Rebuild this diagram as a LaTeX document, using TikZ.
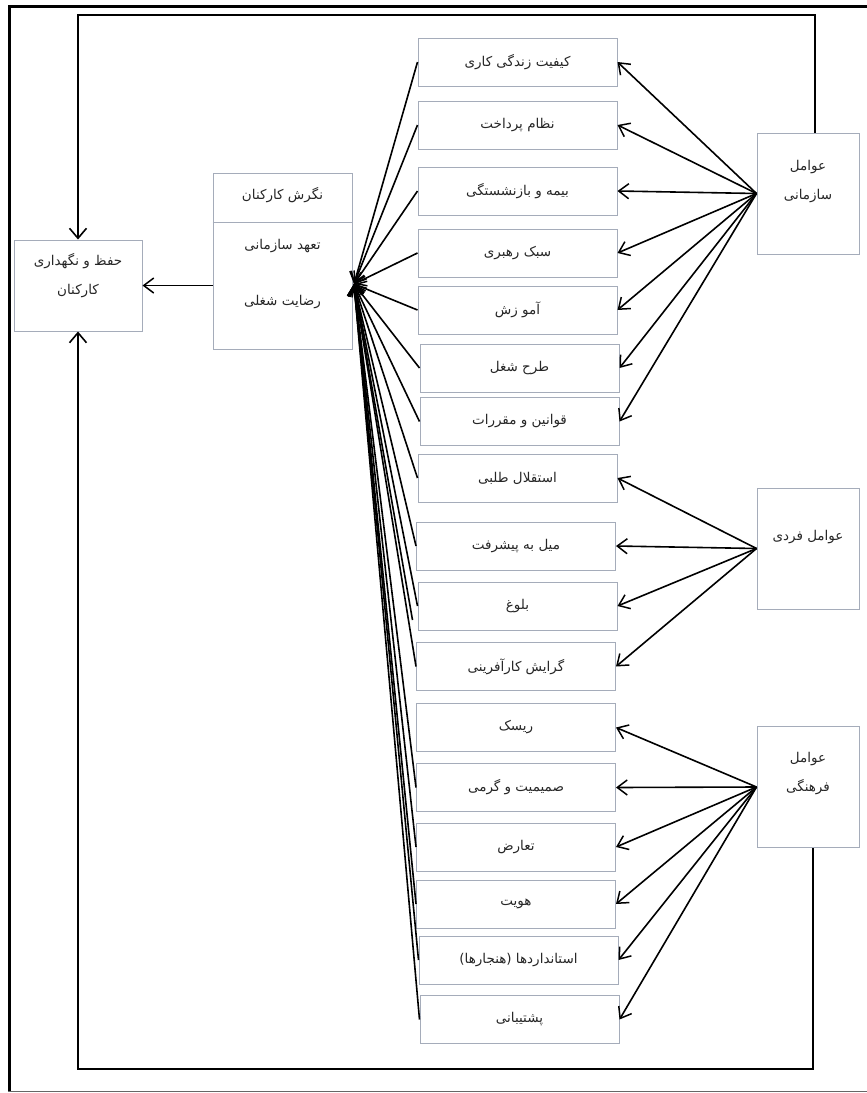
\documentclass[tikz,border=0pt]{standalone}
\usepackage{fontspec}
\newfontfamily\arabicfont[Script=Arabic]{DejaVu Sans}
\TeXXeTstate=1
\usetikzlibrary{arrows.meta,calc}
\definecolor{boxgray}{RGB}{165,172,186}
\newcommand{\fa}[1]{\beginR #1\endR}
\begin{document}
\begin{tikzpicture}[x=1pt,y=-1pt,
  every node/.style={font=\arabicfont\fontsize{13.5}{29}\selectfont,text=black!85},
  mbox/.style={draw=boxgray,line width=1pt,minimum width=199pt,minimum height=48pt,inner sep=0pt},
  rbox/.style={draw=boxgray,line width=1pt,minimum width=102pt,minimum height=121pt,inner sep=0pt},
  lbox/.style={draw=boxgray,line width=1pt,inner sep=0pt},
  conn/.style={line width=1.6pt,-{Straight Barb[length=10pt,width=15pt,line width=1.5pt]}},
  loopl/.style={line width=1.9pt,-{Straight Barb[length=10pt,width=17pt,line width=1.6pt]}},
  frame/.style={line width=3pt,black}
]
\useasboundingbox (0,0) rectangle (867,1093);
% outer frame
\draw[frame] (9.5,5) -- (9.5,1092);
\draw[frame] (8,6.5) -- (867,6.5);
\draw[line width=1.5pt,black!60] (8,1091.5) -- (867,1091.5);

% middle boxes
\node[mbox] (b1) at (517.5,62) {\fa{کیفیت زندگی کاری}};
\node[mbox] (b2) at (517.5,125) {\fa{نظام پرداخت}};
\node[mbox] (b3) at (517.5,191) {\fa{بیمه و بازنشستگی}};
\node[mbox] (b4) at (517.5,253) {\fa{سبک رهبری}};
\node[mbox] (b5) at (517.5,310) {\fa{آمو زش}};
\node[mbox] (b6) at (519.5,368) {\fa{طرح شغل}};
\node[mbox] (b7) at (519.5,421.5) {\fa{قوانین و مقررات}};
\node[mbox] (b8) at (517.5,478) {\fa{استقلال طلبی}};
\node[mbox] (b9) at (516,546) {\fa{میل به پیشرفت}};
\node[mbox] (b10) at (517.5,606) {\fa{بلوغ}};
\node[mbox] (b11) at (516,666.5) {\fa{گرایش کارآفرینی}};
\node[mbox] (b12) at (516,727.5) {\fa{ریسک}};
\node[mbox] (b13) at (516,787.5) {\fa{صمیمیت و گرمی}};
\node[mbox] (b14) at (516,847) {\fa{تعارض}};
\node[mbox] (b15) at (516,904) {\fa{هویت}};
\node[mbox] (b16) at (518.5,960) {\fa{استانداردها (هنجارها)}};
\node[mbox] (b17) at (519.5,1019.5) {\fa{پشتیبانی}};

% right boxes
\node[rbox] (sz) at (808,193.5) {};
\node[align=center] (szt) at (808,182) {\fa{عوامل}\\\fa{سازمانی}};
\node[rbox] (fd) at (808,548.5) {};
\node (fdt) at (808,537) {\fa{عوامل فردی}};
\node[rbox] (fh) at (808,787) {};
\node[align=center] (fht) at (808,774) {\fa{عوامل}\\\fa{فرهنگی}};

% left boxes
\node[lbox,minimum width=128pt,minimum height=91pt] (hf) at (78,285.5) {};
\node[align=center] (hft) at (78,276) {\fa{حفظ و نگهداری}\\\fa{کارکنان}};
\node[lbox,minimum width=139pt,minimum height=176pt] (ng) at (282.5,261) {};
\coordinate (dv) at (282.5,222);
\draw[boxgray,line width=1pt] (ng.west |- dv) -- (ng.east |- dv);
\node (ng1) at (282.5,195) {\fa{نگرش کارکنان}};
\node (ng2) at (282.5,246) {\fa{تعهد سازمانی}};
\node (ng3) at (282.5,302) {\fa{رضایت شغلی}};

% source arrows
\foreach \i in {1,...,7} \draw[conn] (sz.west) -- (b\i.east);
\foreach \i in {8,...,11} \draw[conn] (fd.west) -- (b\i.east);
\foreach \i in {12,...,17} \draw[conn] (fh.west) -- (b\i.east);

% convergence
\coordinate (cv) at (354,284);
\foreach \i in {1,...,11,13,14,15,16,17} \draw[conn] (b\i.west) -- (cv);
\coordinate (x10) at ([xshift=-5pt,yshift=-14pt]b10.west);
\draw[conn] (x10) -- (cv);

\draw[conn] (ng.west |- hf.east) -- (hf.east);

% loops
\coordinate (rtop) at (815,15);
\draw[loopl] (rtop |- sz.north) -- (rtop) -- (hf.north |- rtop) -- (hf.north);
\coordinate (rbot) at (813,1069);
\draw[loopl] (rbot |- fh.south) -- (rbot) -- (hf.south |- rbot) -- (hf.south);
\end{tikzpicture}
\end{document}
